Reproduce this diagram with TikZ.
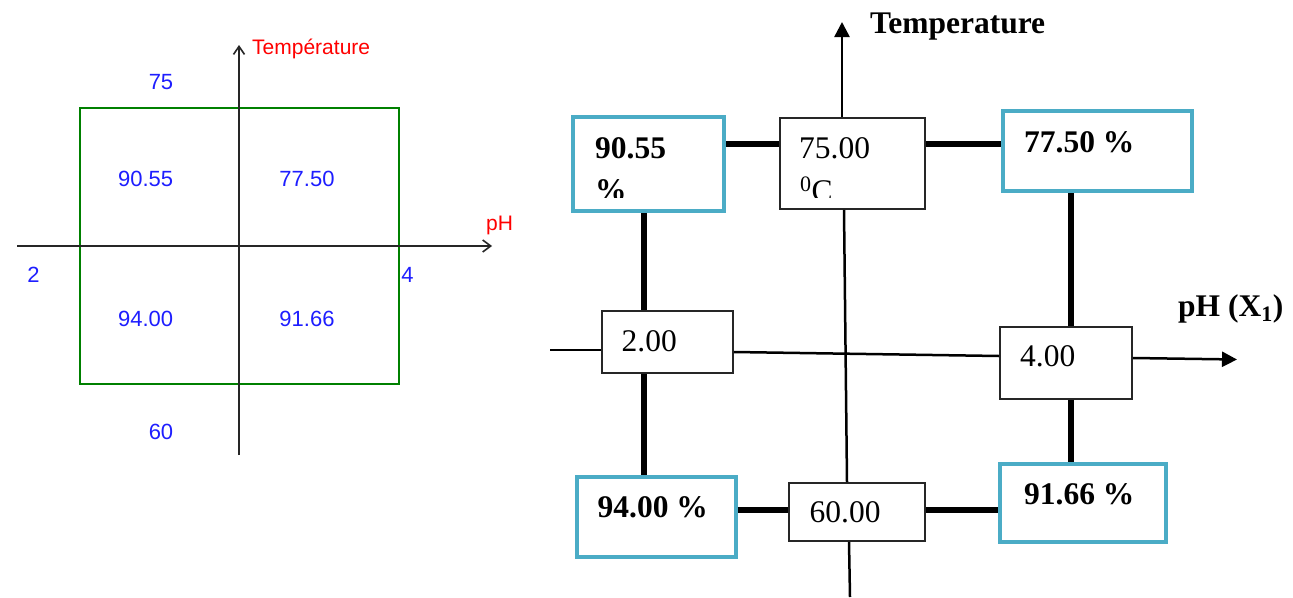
\documentclass[tikz,border=0pt]{standalone}
\usepackage{fontspec}
\newfontfamily\rmf{Liberation Serif}
\newfontfamily\ssf{Liberation Sans}
\usetikzlibrary{arrows.meta}
\definecolor{cyanb}{HTML}{4BACC6}
\definecolor{blueL}{RGB}{30,30,255}
\definecolor{greenL}{RGB}{0,128,0}
\tikzset{
  leftnum/.style={text=blueL,font=\ssf\fontsize{22}{24}\selectfont,inner sep=0pt},
  leftlab/.style={text=red,font=\ssf\fontsize{21}{24}\selectfont,inner sep=0pt},
  leftaxis/.style={line width=1.8pt,black!85},
  resbox/.style={draw=cyanb,line width=4pt,anchor=north west,inner sep=0pt},
  valbox/.style={draw=black!85,line width=1.8pt,anchor=north west,inner sep=0pt},
  boldtxt/.style={font=\rmf\bfseries\fontsize{31.5}{36}\selectfont,anchor=base west,inner sep=0pt},
  regtxt/.style={font=\rmf\fontsize{31.5}{36}\selectfont,anchor=base west,inner sep=0pt},
  thickc/.style={line width=5.5pt},
  thinax/.style={line width=2.5pt},
}
\begin{document}
\begin{tikzpicture}[x=1pt,y=-1pt]
\useasboundingbox[fill=white] (0,0) rectangle (1293,597);
% ---------- left diagram ----------
\draw[greenL,line width=1.8pt] (80,108) rectangle (399,384);
\coordinate (lx0) at (17,246);
\coordinate (lx1) at (492,246);
\coordinate (ly0) at (239,455);
\coordinate (ly1) at (239,45);
\draw[leftaxis,-{Straight Barb[length=8pt,width=12pt,line width=1.6pt]}] (lx0) -- (lx1);
\draw[leftaxis,-{Straight Barb[length=8pt,width=11pt,line width=1.6pt]}] (ly0) -- (ly1);
\node[leftlab,anchor=base west] (ltemp) at (252,54) {Température};
\node[leftlab,anchor=base west] (lph) at (486,230) {pH};
\node[leftnum] (l75) at (161,82.5) {75};
\node[leftnum] (l60) at (161,431.5) {60};
\node[leftnum] (l2) at (33.5,275) {2};
\node[leftnum] (l4) at (407.5,275) {4};
\node[leftnum] (l9055) at (145.6,178.5) {90.55};
\node[leftnum] (l7750) at (307,178.5) {77.50};
\node[leftnum] (l9400) at (145.6,318.5) {94.00};
\node[leftnum] (l9166) at (307,318.5) {91.66};
% ---------- right diagram ----------
\node[resbox,minimum width=151pt,minimum height=94pt] (b9055) at (571,115) {};
\node[valbox,minimum width=145pt,minimum height=91pt] (b7500) at (779,117) {};
\node[resbox,minimum width=189pt,minimum height=80pt] (b7750) at (1001,109) {};
\node[valbox,minimum width=131pt,minimum height=62pt] (b200) at (601,310) {};
\node[valbox,minimum width=132pt,minimum height=72pt] (b400) at (999,326) {};
\node[resbox,minimum width=159pt,minimum height=80pt] (b9400) at (574.5,475) {};
\node[valbox,minimum width=136pt,minimum height=58pt] (b6000) at (788,482) {};
\node[resbox,minimum width=166pt,minimum height=78pt] (b9166) at (998,462) {};
% helper coordinates
\coordinate (yTop) at (0,144);
\coordinate (yBot) at (0,510);
\coordinate (xL) at (644,0);
\coordinate (xR) at (1071,0);
\coordinate (xT1) at (842,0);
\coordinate (xT2) at (844,0);
\coordinate (xT3) at (847,0);
\coordinate (xT4) at (849,0);
\coordinate (tTop) at (842,22);
\coordinate (tBot) at (850,597);
\coordinate (pStart) at (550,350);
\coordinate (pEnd) at (1237,359.5);
\coordinate (p2) at (0,352);
\coordinate (p3) at (0,356);
\coordinate (p4) at (0,358);
% thick connectors
\draw[thickc] (b9055.east |- yTop) -- (b7500.west |- yTop);
\draw[thickc] (b7500.east |- yTop) -- (b7750.west |- yTop);
\draw[thickc] (b9400.east |- yBot) -- (b6000.west |- yBot);
\draw[thickc] (b6000.east |- yBot) -- (b9166.west |- yBot);
\draw[thickc] (b9055.south -| xL) -- (b200.north -| xL);
\draw[thickc] (b200.south -| xL) -- (b9400.north -| xL);
\draw[thickc] (b7750.south -| xR) -- (b400.north -| xR);
\draw[thickc] (b400.south -| xR) -- (b9166.north -| xR);
% temperature axis
\draw[thinax,-{Triangle[length=15pt,width=15pt]}] (b7500.north -| xT1) -- (tTop);
\draw[thinax] (b7500.south -| xT2) -- (b6000.north -| xT3);
\draw[thinax] (b6000.south -| xT4) -- (tBot);
% pH axis
\draw[thinax] (pStart) -- (b200.west |- pStart);
\draw[thinax] (b200.east |- p2) -- (b400.west |- p3);
\draw[thinax,-{Triangle[length=15pt,width=15pt]}] (b400.east |- p4) -- (pEnd);
% texts
\node[boldtxt] (t9055) at (595,158) {90.55};
\node[regtxt] (t7500) at (799,158) {75.00};
\begin{scope}
\clip (560,100) rectangle (930,197.5);
\node[boldtxt] (tpc) at (595,200) {\%};
\node[regtxt] (tdeg) at (800,201) {\textsuperscript{0}C};
\end{scope}
\node[boldtxt] (t7750) at (1024,152) {77.50 \%};
\node[regtxt] (t200) at (621.5,351) {2.00};
\node[regtxt] (t400) at (1020,366) {4.00};
\node[boldtxt] (t9400) at (597.5,517) {94.00 \%};
\node[regtxt] (t6000) at (809.5,522) {60.00};
\node[boldtxt] (t9166) at (1024,504) {91.66 \%};
\node[boldtxt] (ttemp) at (870,33) {Temperature};
\node[boldtxt] (tph) at (1178,316) {pH (X\textsubscript{1})};
\end{tikzpicture}
\end{document}
